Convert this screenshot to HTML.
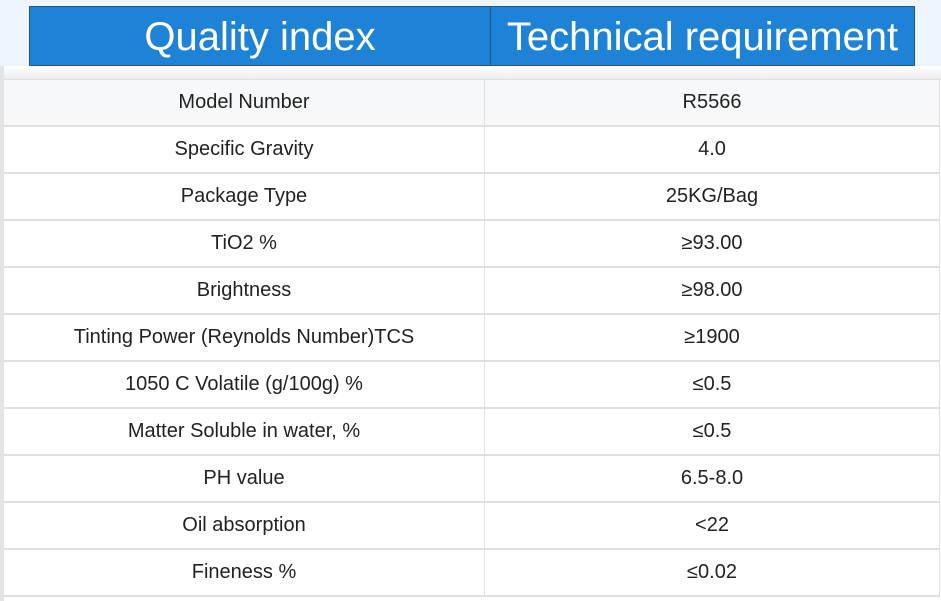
<!DOCTYPE html>
<html><head><meta charset="utf-8"><style>
body{margin:0;width:941px;height:601px;background:#fff;position:relative;overflow:hidden;font-family:"Liberation Sans",sans-serif}
#top{position:absolute;left:0;top:0;width:941px;height:68px;background:#eef5fd}
#hdr{position:absolute;left:29px;top:6px;width:884px;height:58px;background:#1e83d7;border:1px solid #2a5580;display:flex}
#hdr div{color:#fff;font-size:40px;text-align:center;line-height:60px}
#shadow{position:absolute;left:0;top:66px;width:941px;height:14px;background:linear-gradient(#fff,#ececec)}
#leftbar{position:absolute;left:0;top:66px;width:4px;height:535px;background:#e4e4e4}
table{position:absolute;left:4px;top:79px;border-collapse:collapse;width:936px}
td{height:45px;border:1px solid #e0e0e0;border-width:0 1px 2px 1px;text-align:center;font-size:20px;color:#222;padding:0}
tr:first-child td{background:#f6f8fa;border-top:1px solid #e0e0e0}
td:first-child{width:480px;border-left:0}
</style></head><body>
<div id="top"></div>
<div id="hdr">
<div style="width:460px;border-right:1px solid #2a5580">Quality index</div>
<div style="width:423px">Technical requirement</div>
</div>
<div id="shadow"></div>
<div id="leftbar"></div>
<table>
<tr><td>Model Number</td><td>R5566</td></tr>
<tr><td>Specific Gravity</td><td>4.0</td></tr>
<tr><td>Package Type</td><td>25KG/Bag</td></tr>
<tr><td>TiO2 %</td><td>≥93.00</td></tr>
<tr><td>Brightness</td><td>≥98.00</td></tr>
<tr><td>Tinting Power (Reynolds Number)TCS</td><td>≥1900</td></tr>
<tr><td>1050 C Volatile (g/100g) %</td><td>≤0.5</td></tr>
<tr><td>Matter Soluble in water, %</td><td>≤0.5</td></tr>
<tr><td>PH value</td><td>6.5-8.0</td></tr>
<tr><td>Oil absorption</td><td>&lt;22</td></tr>
<tr><td>Fineness %</td><td>≤0.02</td></tr>
</table>
</body></html>
